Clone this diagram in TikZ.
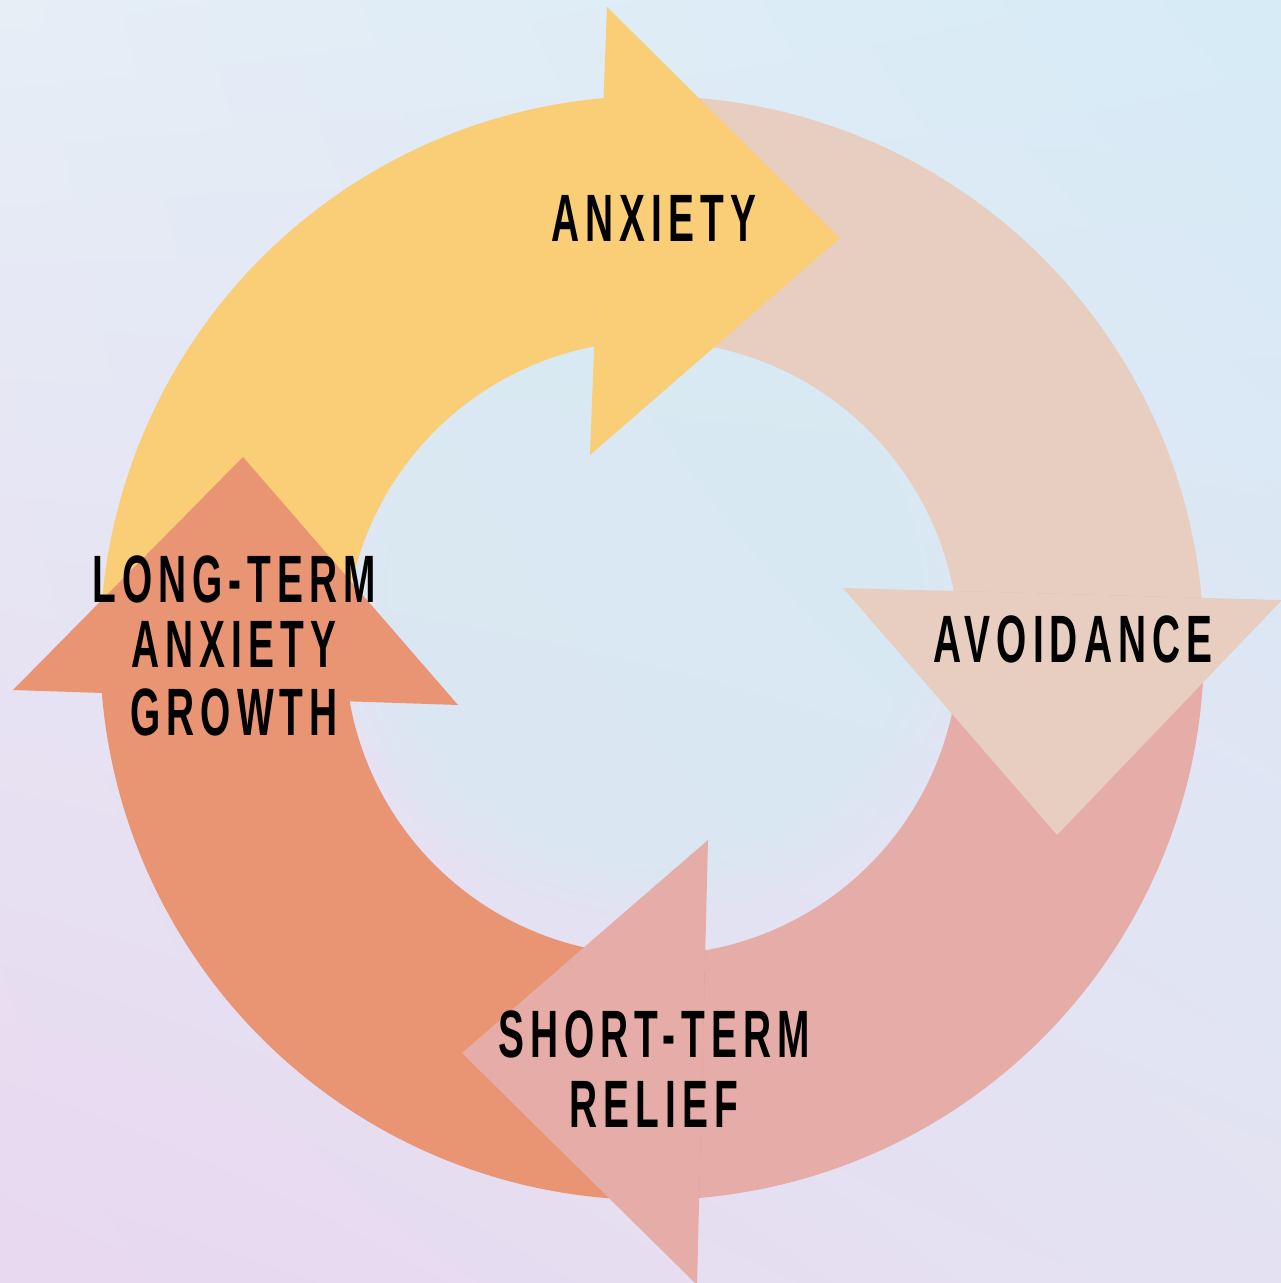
\documentclass[tikz,border=0pt]{standalone}
\usepackage{fontspec}
\newfontfamily\lbl{Liberation Sans}[FakeStretch=0.58,LetterSpace=9.0]
\usetikzlibrary{fadings,shadings}
\definecolor{cyel}{HTML}{F9CE77}
\definecolor{cbei}{HTML}{E8CEC0}
\definecolor{cpin}{HTML}{E5ACA8}
\definecolor{cora}{HTML}{E99574}
\definecolor{bgul}{HTML}{E6EEF6}
\definecolor{bgur}{HTML}{D6EBF6}
\definecolor{bgll}{HTML}{E8D8F0}
\definecolor{bglr}{HTML}{E4E2F2}
\definecolor{bgmid}{HTML}{D4EAF2}
\begin{document}
\begin{tikzpicture}[x=1pt,y=1pt,
  lab/.style={font=\lbl\bfseries\fontsize{67}{67}\selectfont, inner sep=0pt, anchor=base, text=black}]
\useasboundingbox (0,0) rectangle (1281,1283);
% background
\shade[shading=bilinear interpolation, upper left=bgul, upper right=bgur, lower left=bgll, lower right=bglr] (0,0) rectangle (1281,1283);
\fill[bgmid, opacity=0.6, path fading=circle with fuzzy edge 20 percent] (652,690) circle (330pt);
% ring segments (each runs a little under its own arrowhead)
\begin{scope}[shift={(652,635)}]
\fill[cyel] (184.68:552pt) arc[start angle=184.68,end angle=92.0,radius=552pt] -- (98.0:307pt) arc[start angle=98.0,end angle=190.0,radius=307pt] -- cycle;
\fill[cbei] (95.04:552pt) arc[start angle=95.04,end angle=2.0,radius=552pt] -- (8.0:307pt) arc[start angle=8.0,end angle=100.87,radius=307pt] -- cycle;
\fill[cpin] (5.21:552pt) arc[start angle=5.21,end angle=-88.0,radius=552pt] -- (-83.0:307pt) arc[start angle=-83.0,end angle=10.69,radius=307pt] -- cycle;
\fill[cora] (-85.1:552pt) arc[start angle=-85.1,end angle=-178.0,radius=552pt] -- (-173.0:307pt) arc[start angle=-173.0,end angle=-80.0,radius=307pt] -- cycle;
\end{scope}
% arrowheads
\fill[cyel] (607,1276) -- (840,1045) -- (590,828) -- cycle;
\fill[cbei] (843,695) -- (1057,448) -- (1282,683) -- cycle;
\fill[cpin] (708,443) -- (462,230) -- (697,-2) -- cycle;
\fill[cora] (13,593) -- (243,826) -- (458,578) -- cycle;
% labels
\node[lab] (anx) at (654,1041) {ANXIETY};
\node[lab] (avo) at (1073,620) {AVOIDANCE};
\node[lab] (st1) at (654,225) {SHORT-TERM};
\node[lab] (st2) at (654,155) {RELIEF};
\node[lab] (lt1) at (234,680) {LONG-TERM};
\node[lab] (lt2) at (234,615) {ANXIETY};
\node[lab] (lt3) at (234,547) {GROWTH};
\end{tikzpicture}
\end{document}
